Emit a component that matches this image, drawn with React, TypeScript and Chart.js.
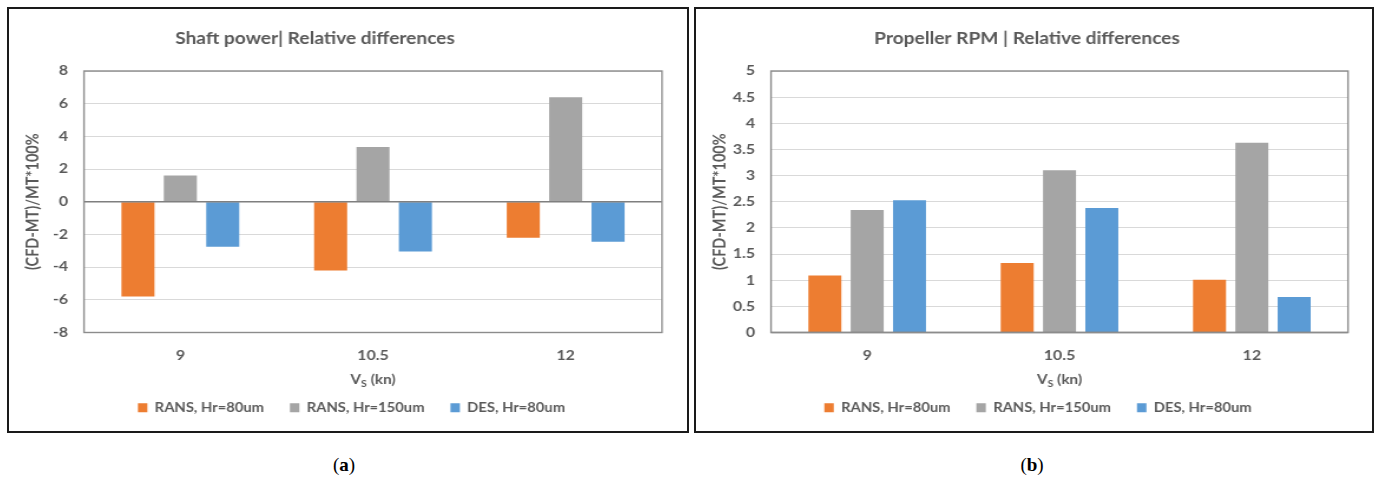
import React, { useEffect, useRef } from "react";
import { Chart, registerables } from "chart.js";

Chart.register(...registerables);

// Ship speed categories (knots)
const speeds = ["9", "10.5", "12"];

const seriesNames = ["RANS, Hr=80um", "RANS, Hr=150um", "DES, Hr=80um"];
const seriesColors = ["#ED7D31", "#A5A5A5", "#5B9BD5"];

// Shaft power relative differences (%)
const shaftRans80 = [-5.8, -4.2, -2.2];
const shaftRans150 = [1.6, 3.35, 6.4];
const shaftDes80 = [-2.75, -3.05, -2.45];

// Propeller RPM relative differences (%)
const rpmRans80 = [1.09, 1.33, 1.01];
const rpmRans150 = [2.34, 3.1, 3.63];
const rpmDes80 = [2.53, 2.38, 0.68];

const shaftAxis = { min: -8, max: 8, step: 2 };
const rpmAxis = { min: 0, max: 5, step: 0.5 };

const TEXT = "#595959";
const FONT = "Lato, 'Open Sans', sans-serif";
// The figure is drawn on a narrower canvas and widened by this factor
const SX = 1.18;
const CANVAS_H = 422;

const decorPlugin = {
  id: "decor",
  afterDatasetsDraw(chart: any, _args: any, opts: any) {
    const { ctx, chartArea: a, scales } = chart;
    ctx.save();
    if (opts.zeroLine) {
      const y = scales.y.getPixelForValue(0);
      ctx.strokeStyle = "#7f7f7f";
      ctx.lineWidth = 1.5;
      ctx.beginPath();
      ctx.moveTo(a.left, y);
      ctx.lineTo(a.right, y);
      ctx.stroke();
    }
    ctx.strokeStyle = "#8c8c8c";
    ctx.lineWidth = 1.4;
    ctx.strokeRect(a.left, a.top, a.right - a.left, a.bottom - a.top);
    ctx.restore();
  },
  afterDraw(chart: any, _args: any, opts: any) {
    const { ctx, chartArea: a } = chart;
    ctx.save();
    ctx.fillStyle = TEXT;
    ctx.textBaseline = "alphabetic";
    // chart title
    ctx.font = `bold 16.2px ${FONT}`;
    ctx.textAlign = "center";
    ctx.fillText(opts.title, opts.titleX, opts.titleY);
    // x-axis title: V with subscript S
    const big = `bold 13px ${FONT}`;
    const small = `bold 9px ${FONT}`;
    ctx.font = big;
    const wV = ctx.measureText("V").width;
    const wRest = ctx.measureText(" (kn)").width;
    ctx.font = small;
    const wS = ctx.measureText("S").width;
    let x = (a.left + a.right) / 2 - (wV + wS + wRest) / 2;
    const y = opts.xTitleY;
    ctx.textAlign = "left";
    ctx.font = big;
    ctx.fillText("V", x, y);
    x += wV;
    ctx.font = small;
    ctx.fillText("S", x, y + 3);
    x += wS;
    ctx.font = big;
    ctx.fillText(" (kn)", x, y);
    ctx.restore();
  },
};

type PanelProps = {
  left: number;
  width: number;
  title: string;
  titleX: number;
  series: number[][];
  axis: { min: number; max: number; step: number };
  zeroLine: boolean;
  plotRight: number;
  legendCenter: number;
};

function Panel({ left, width, title, titleX, series, axis, zeroLine, plotRight, legendCenter }: PanelProps) {
  const ref = useRef<HTMLCanvasElement | null>(null);
  const innerW = Math.round(width / SX);
  const sx = width / innerW;

  useEffect(() => {
    if (!ref.current) return;
    const padLeft = 12;
    const plotLeft = 75 / sx;
    const padRight = Math.max(0, innerW + padLeft - (2 * legendCenter) / sx);
    const spacerW = innerW - plotRight / sx - padRight;
    const chart = new Chart(ref.current, {
      type: "bar",
      data: {
        labels: speeds,
        datasets: series.map((values, i) => ({
          label: seriesNames[i],
          data: values,
          backgroundColor: seriesColors[i],
          borderWidth: 0,
          categoryPercentage: 0.66,
          barPercentage: 0.78,
          yAxisID: "y",
        })),
      },
      options: {
        animation: false,
        responsive: false,
        events: [],
        layout: { padding: { top: 62, right: padRight, left: padLeft, bottom: 7 } },
        scales: {
          x: {
            grid: { display: false, drawTicks: false },
            border: { display: false },
            ticks: { color: TEXT, font: { family: FONT, size: 13.5, weight: "bold" }, padding: 15 },
            afterFit: (s: any) => {
              s.height = 47;
            },
          },
          y: {
            min: axis.min,
            max: axis.max,
            grid: { color: "#d9d9d9", lineWidth: 1, drawTicks: false },
            border: { display: false },
            ticks: {
              stepSize: axis.step,
              color: TEXT,
              font: { family: FONT, size: 13.5, weight: "bold" },
              padding: 16 / sx,
              callback: (v: any) => String(Number(Number(v).toFixed(2))),
            },
            title: {
              display: true,
              text: "(CFD-MT)/MT*100%",
              color: TEXT,
              font: { family: FONT, size: 14.5, weight: "bold" },
              padding: 0,
            },
            afterFit: (s: any) => {
              s.width = plotLeft - padLeft;
            },
          },
          // empty right-hand margin next to the plot area
          spacer: {
            type: "linear",
            position: "right",
            grid: { display: false, drawTicks: false },
            border: { display: false },
            ticks: { display: false },
            afterFit: (s: any) => {
              s.width = spacerW;
            },
          },
        },
        plugins: {
          legend: {
            position: "bottom",
            labels: {
              boxWidth: 8,
              boxHeight: 9,
              padding: 22,
              color: TEXT,
              font: { family: FONT, size: 12.5, weight: "bold" },
            },
          },
          tooltip: { enabled: false },
          decor: { title, titleX: titleX / sx, titleY: 35, xTitleY: 374.5, zeroLine },
        },
      } as any,
      plugins: [decorPlugin],
    });
    return () => chart.destroy();
  }, []);

  return (
    <div
      style={{
        position: "absolute",
        left,
        top: 7,
        width,
        height: CANVAS_H,
        border: "2px solid #1a1a1a",
        background: "#fff",
      }}
    >
      <canvas
        ref={ref}
        width={innerW}
        height={CANVAS_H}
        style={{ display: "block", width: `${width}px`, height: `${CANVAS_H}px` }}
      />
    </div>
  );
}

const captionStyle: React.CSSProperties = {
  position: "absolute",
  top: 454,
  width: 80,
  textAlign: "center",
  fontFamily: "'Liberation Serif', 'DejaVu Serif', serif",
  fontSize: 19,
  lineHeight: "22px",
  color: "#000",
};

export default function App() {
  return (
    <div style={{ position: "absolute", left: 0, top: 0, width: 1380, height: 477 }}>
      <Panel
        left={7}
        width={678}
        title="Shaft power| Relative differences"
        titleX={306}
        series={[shaftRans80, shaftRans150, shaftDes80]}
        axis={shaftAxis}
        zeroLine={true}
        plotRight={653}
        legendCenter={342.5}
      />
      <Panel
        left={694}
        width={676}
        title="Propeller RPM | Relative differences"
        titleX={331}
        series={[rpmRans80, rpmRans150, rpmDes80]}
        axis={rpmAxis}
        zeroLine={true}
        plotRight={652}
        legendCenter={342}
      />
      <div style={{ ...captionStyle, left: 304 }}>
        (<b>a</b>)
      </div>
      <div style={{ ...captionStyle, left: 992 }}>
        (<b>b</b>)
      </div>
    </div>
  );
}
